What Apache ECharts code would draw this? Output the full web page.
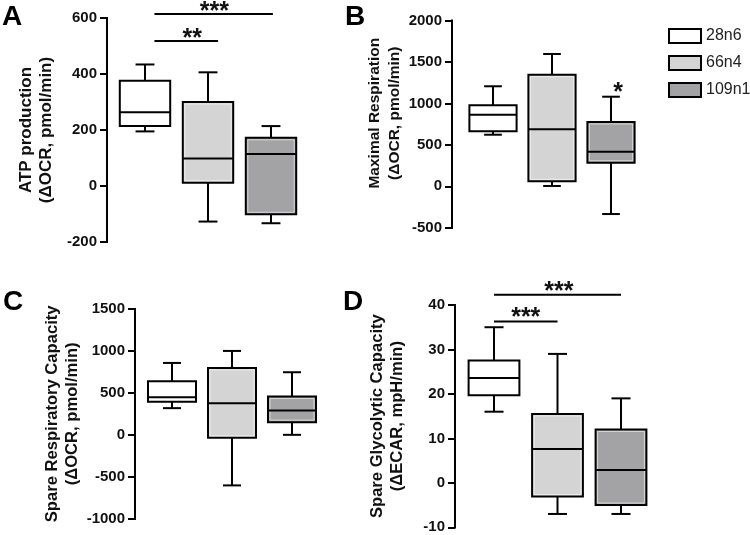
<!DOCTYPE html>
<html>
<head>
<meta charset="utf-8">
<script src="https://cdn.jsdelivr.net/npm/echarts@6/dist/echarts.min.js"></script>
<style>html,body{margin:0;padding:0;background:#fff}#c{width:750px;height:535px}</style>
</head>
<body>
<div id="c"></div>
<script>
// ---- data ----
const groups = ['28n6', '66n4', '109n1'];
// each box: [min, Q1, median, Q3, max]
const atpProduction = [[195, 214, 263, 376, 434], [-127, 12, 98, 300, 406], [-133, -101, 114, 172, 214]];
const maximalRespiration = [[623, 664, 865, 978, 1208], [4, 60, 688, 1348, 1598], [-335, 285, 418, 777, 1082]];
const spareRespiratory = [[318, 393, 449, 639, 857], [-603, -36, 377, 798, 1000], [0, 151, 290, 456, 746]];
const spareGlycolytic = [[16, 19.7, 23.6, 27.5, 35], [-7, -3.1, 7.6, 15.5, 29], [-7, -5, 2.9, 12, 19]];
// significance bars: [fromGroup, toGroup, yValue] (group positions 1..3), labels
const sigBarsA = [[1.15, 3.03, 614], [1.15, 2.16, 518]];
const sigTextA = ['***', '**'];
const sigBarsB = [];
const sigTextB = ['*'];
const sigBarsD = [[1, 3, 42.3], [1, 2, 36.3]];
const sigTextD = ['***', '***'];
const yTicksA = [-200, 600, 200];
const yTicksB = [-500, 2000, 500];
const yTicksC = [-1000, 1500, 500];
const yTicksD = [-10, 40, 10];

// ---- styles ----
const fills = ['#ffffff', '#d4d4d4', '#a3a3a5'];
const FONT = 'Liberation Sans, Arial, Helvetica, sans-serif';

// layout: axisX = pixel x of y-axis line, c0 = first box centre, step = box spacing
const panels = [
  {letter: 'A', data: atpProduction, ticks: yTicksA, axisX: 107, c0: 145, step: 63, top: 18, height: 224,
   name: 'ATP production\n(ΔOCR, pmol/min)', nameGap: 48, nameSize: 17, namePad: 0, sig: sigBarsA, sigText: sigTextA,
   textPos: [[2.1, 642], [1.75, 546]]},
  {letter: 'B', data: maximalRespiration, ticks: yTicksB, axisX: 452, c0: 493, step: 59, top: 20.7, height: 207,
   name: 'Maximal Respiration\n(ΔOCR, pmol/min)', nameGap: 37, nameSize: 15.5, namePad: 22, sig: sigBarsB, sigText: sigTextB,
   textPos: [[3.12, 1200]]},
  {letter: 'C', data: spareRespiratory, ticks: yTicksC, axisX: 135, c0: 172, step: 60, top: 309, height: 209.7,
   name: 'Spare Respiratory Capacity\n(ΔOCR, pmol/min)', nameGap: 45, nameSize: 16.6, namePad: 0, sig: [], sigText: [], textPos: []},
  {letter: 'D', data: spareGlycolytic, ticks: yTicksD, axisX: 455, c0: 494, step: 63.5, top: 305, height: 222.3,
   name: 'Spare Glycolytic Capacity\n(ΔECAR, mpH/min)', nameGap: 45, nameSize: 16.6, namePad: 0, sig: sigBarsD, sigText: sigTextD,
   textPos: [[2.02, 44.3], [1.5, 38.5]]}
];

const grids = [], xAxes = [], yAxes = [], series = [], graphics = [];
const letterPos = [[2, 3], [345, 3], [3, 288], [343, 288]];
const PAD = 0.04;   // small margin left of the y-axis line, in group units

panels.forEach((p, pi) => {
  const off = (p.c0 - p.axisX) / p.step;   // x = 0 sits on the y-axis line
  const gx = g => off + (g - 1);           // group position (1..3) -> x value
  const xmax = off + 2.5;
  const gridLeft = p.axisX - PAD * p.step;
  const yLo = p.ticks[0], yHi = p.ticks[1];
  grids.push({containLabel: false, left: gridLeft, top: p.top, height: p.height, width: (xmax + PAD) * p.step});
  xAxes.push({type: 'value', gridIndex: pi, min: -PAD, max: xmax, show: false});
  yAxes.push({
    type: 'value', gridIndex: pi, min: yLo, max: yHi, interval: p.ticks[2],
    position: 'left',
    axisLine: {show: true, onZero: true, lineStyle: {color: '#000', width: 2}},
    axisTick: {show: true, length: 7, lineStyle: {color: '#000', width: 2}},
    splitLine: {show: false},
    axisLabel: {color: '#111', fontFamily: FONT, fontWeight: 'bold', fontSize: 15, margin: 10 - PAD * p.step,
      formatter: v => String(v)},
    name: p.name, nameLocation: 'middle', nameRotate: 90, nameGap: p.nameGap,
    nameTextStyle: {color: '#111', fontFamily: FONT, fontWeight: 'bold', fontSize: p.nameSize, lineHeight: 20,
      align: 'center', padding: [0, 0, 0, p.namePad]}
  });
  // axis spine drawn through the scales on a top layer, from axis min to axis max at x = 0
  series.push({
    type: 'custom', xAxisIndex: pi, yAxisIndex: pi, clip: false, silent: true, zlevel: 1, z: 100,
    encode: {x: 0, y: 1},
    data: [[0.5, (yLo + yHi) / 2]],
    renderItem: function (params, api) {
      const a = api.coord([0, yLo]), b = api.coord([0, yHi]);
      return {type: 'line', shape: {x1: a[0], y1: a[1] + 1, x2: b[0], y2: b[1] - 1}, style: {stroke: '#000', lineWidth: 2}};
    }
  });
  p.data.forEach((box, gi) => {
    const fill = fills[gi];
    series.push({
      type: 'custom', name: groups[gi], xAxisIndex: pi, yAxisIndex: pi,
      itemStyle: {color: fill, borderColor: '#000', borderWidth: 2},
      encode: {x: 0, y: [1, 2, 3, 4, 5]},
      data: [[gx(gi + 1)].concat(box)],
      clip: false,
      renderItem: function (params, api) {
        const i = api.value(0);
        const v = [1, 2, 3, 4, 5].map(k => api.value(k));
        const unit = api.size([1, 0])[0];
        const x = api.coord([i, v[2]])[0];
        const Y = v.map(val => api.coord([i, val])[1]);
        const bw = unit * 0.8, cw = unit * 0.3;
        const ls = {stroke: '#000', lineWidth: 2, fill: null};
        const children = [];
        if (gi === 0) {
          // y-axis spine (x = 0), also drawn here
          const a = api.coord([0, yLo]), b = api.coord([0, yHi]);
          children.push({type: 'line', shape: {x1: a[0], y1: a[1] + 1, x2: b[0], y2: b[1] - 1}, style: ls});
        }
        children.push(
          {type: 'line', shape: {x1: x, y1: Y[3], x2: x, y2: Y[4]}, style: ls},
          {type: 'line', shape: {x1: x - cw / 2, y1: Y[4], x2: x + cw / 2, y2: Y[4]}, style: ls},
          {type: 'line', shape: {x1: x, y1: Y[1], x2: x, y2: Y[0]}, style: ls},
          {type: 'line', shape: {x1: x - cw / 2, y1: Y[0], x2: x + cw / 2, y2: Y[0]}, style: ls},
          {type: 'rect', shape: {x: x - bw / 2, y: Y[3], width: bw, height: Y[1] - Y[3]},
           style: {fill: fill, stroke: '#000', lineWidth: 2}}
        );
        if (gi > 0) {
          children.push({type: 'rect', shape: {x: x - bw / 2 + 2, y: Y[3] + 2, width: bw - 4, height: Y[1] - Y[3] - 4},
            style: {fill: null, stroke: 'rgba(255,255,255,0.55)', lineWidth: 1}});
        }
        children.push({type: 'line', shape: {x1: x - bw / 2, y1: Y[2], x2: x + bw / 2, y2: Y[2]}, style: ls});
        return {type: 'group', children: children};
      }
    });
  });
  // significance annotations
  const annData = [];
  p.sig.forEach(s => annData.push(['bar', gx(s[0]), gx(s[1]), s[2]]));
  p.sigText.forEach((t, k) => annData.push(['text', gx(p.textPos[k][0]), p.textPos[k][1], t]));
  if (annData.length) {
    series.push({
      type: 'custom', xAxisIndex: pi, yAxisIndex: pi, clip: false, silent: true,
      encode: {x: 0, y: 1},
      data: annData.map(d => [d[1], d[0] === 'bar' ? d[3] : d[2]]),
      renderItem: function (params, api) {
        const d = annData[params.dataIndex];
        if (d[0] === 'bar') {
          const a = api.coord([d[1], d[3]]), b = api.coord([d[2], d[3]]);
          return {type: 'line', shape: {x1: a[0], y1: a[1], x2: b[0], y2: b[1]}, style: {stroke: '#000', lineWidth: 2}};
        }
        const c = api.coord([d[1], d[2]]);
        return {type: 'text', style: {text: d[3], x: c[0], y: c[1] + 6, textAlign: 'center', textVerticalAlign: 'middle',
          fill: '#111', fontFamily: FONT, fontWeight: 'bold', fontSize: 25}};
      }
    });
  }
  graphics.push({type: 'text', left: letterPos[pi][0], top: letterPos[pi][1],
    style: {text: p.letter, fill: '#000', font: 'bold 28px ' + FONT}});
});

const chart = echarts.init(document.getElementById('c'), null, {renderer: 'canvas'});
chart.setOption({
  animation: false,
  backgroundColor: '#fff',
  grid: grids, xAxis: xAxes, yAxis: yAxes, series: series, graphic: graphics,
  legend: {
    orient: 'vertical', left: 668, top: 28, padding: 0, itemWidth: 32, itemHeight: 14, itemGap: 11,
    icon: 'rect',
    textStyle: {fontFamily: FONT, fontSize: 16, color: '#222'},
    data: groups.map((g, gi) => ({name: g, itemStyle: {color: fills[gi], borderColor: '#000', borderWidth: 2}}))
  }
});
</script>
</body>
</html>
